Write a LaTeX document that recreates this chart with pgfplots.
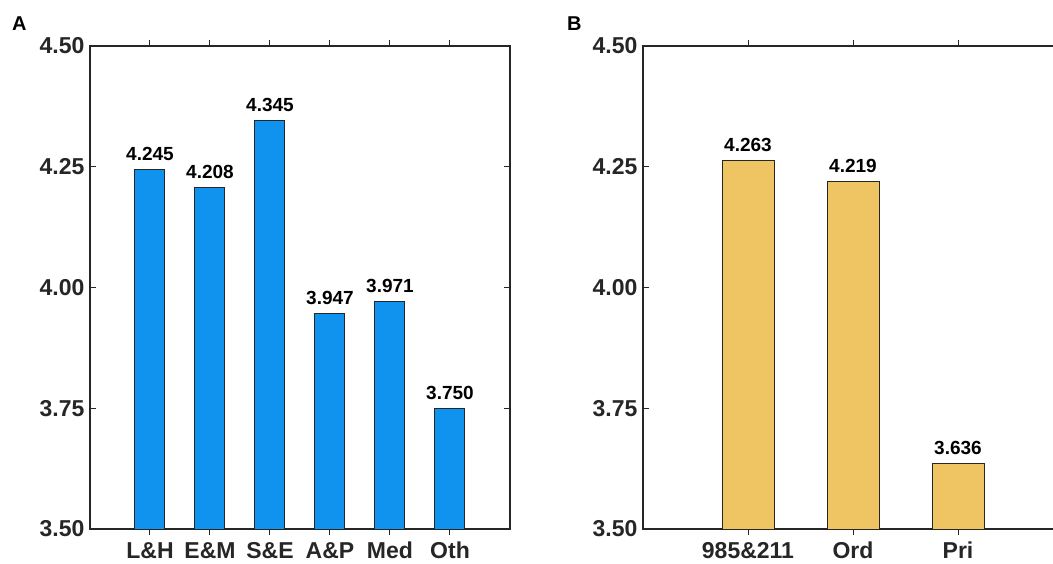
\documentclass[border=0pt]{standalone}
\usepackage{pgfplots}
\pgfplotsset{compat=1.18}
\usepackage{fontspec}
\setmainfont{Liberation Sans}
\definecolor{barA}{HTML}{0F93EF}
\definecolor{barB}{HTML}{EEC562}
\definecolor{axgray}{HTML}{262626}

\pgfplotsset{
  panel/.style={
    scale only axis, width=420pt, height=483pt,
    anchor=south west,
    ymin=3.5, ymax=4.5,
    ytick={3.5,3.75,4,4.25,4.5},
    xtick=data,
    axis line style={axgray, line width=1.2pt},
    every tick/.style={axgray, line width=1pt},
    major tick length=6pt,
    tick align=inside,
    /pgf/number format/assume math mode=true,
    tick label style={font=\fontsize{23}{27}\selectfont\bfseries, text=axgray},
    yticklabel style={/pgf/number format/fixed, /pgf/number format/fixed zerofill,
      /pgf/number format/precision=2, xshift=-2pt},
    xticklabel style={inner sep=1pt, yshift=-6pt},
    ybar,
    nodes near coords,
    nodes near coords style={font=\fontsize{19}{23}\selectfont\bfseries, text=black,
      /pgf/number format/fixed, /pgf/number format/fixed zerofill,
      /pgf/number format/precision=3, yshift=5pt},
  }
}

\begin{document}
\begin{tikzpicture}
\path[use as bounding box] (0,0) rectangle (1053pt,563pt);

% panel A
\begin{axis}[panel, at={(90pt,34pt)},
  xmin=0, xmax=7, bar width=30pt,
  xticklabels={L\&H, E\&M, S\&E, A\&P, Med, Oth}]
  \addplot[fill=barA, draw=axgray, line width=1pt]
    coordinates {(1,4.245)(2,4.208)(3,4.345)(4,3.947)(5,3.971)(6,3.750)};
\end{axis}

% panel B
\begin{axis}[panel, at={(643pt,34pt)},
  xmin=0, xmax=4, bar width=52pt,
  xticklabels={985\&211, Ord, Pri}]
  \addplot[fill=barB, draw=axgray, line width=1pt]
    coordinates {(1,4.263)(2,4.219)(3,3.636)};
\end{axis}

\node[anchor=base west, inner sep=0pt, font=\fontsize{20}{24}\selectfont\bfseries] at (12pt,532pt) {A};
\node[anchor=base west, inner sep=0pt, font=\fontsize{20}{24}\selectfont\bfseries] at (567pt,532pt) {B};
\end{tikzpicture}
\end{document}
